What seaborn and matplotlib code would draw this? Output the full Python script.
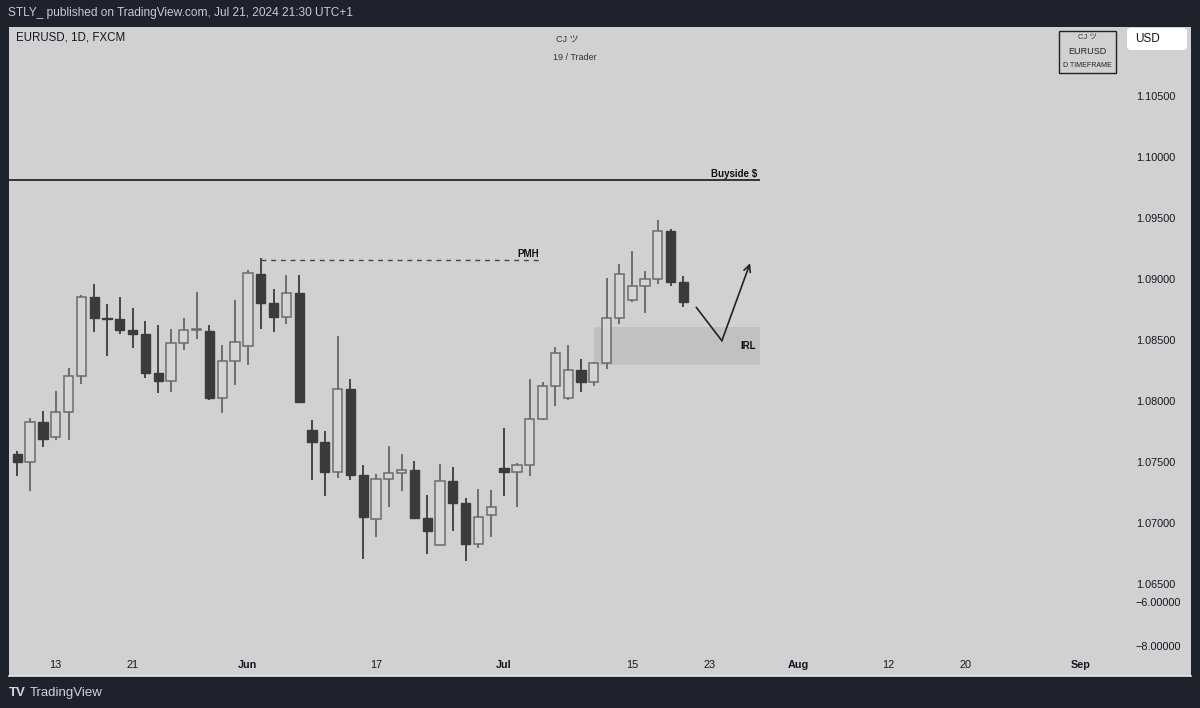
import matplotlib
matplotlib.use("Agg")
import matplotlib.pyplot as plt
import matplotlib.transforms as mtransforms
from matplotlib.patches import Rectangle, FancyBboxPatch
import seaborn as sns
import numpy as np

# ---------------- data ----------------
open_ = [1.0757, 1.0751, 1.0784, 1.0771, 1.0792, 1.0821, 1.0886, 1.0869, 1.0868, 1.0859,
         1.0856, 1.0824, 1.0817, 1.0848, 1.0859, 1.0858, 1.0803, 1.0834, 1.0846, 1.0905,
         1.0881, 1.0870, 1.0889, 1.0777, 1.0767, 1.0743, 1.0811, 1.0740, 1.0704, 1.0737,
         1.0742, 1.0744, 1.0705, 1.0683, 1.0735, 1.0717, 1.0684, 1.0707, 1.0746, 1.0743,
         1.0748, 1.0786, 1.0813, 1.0803, 1.0826, 1.0816, 1.0832, 1.0869, 1.0884, 1.0895,
         1.0901, 1.0940, 1.0898]
high = [1.0760, 1.0787, 1.0793, 1.0809, 1.0828, 1.0888, 1.0897, 1.0880, 1.0886, 1.0877,
        1.0866, 1.0863, 1.0860, 1.0869, 1.0890, 1.0863, 1.0847, 1.0884, 1.0908, 1.0918,
        1.0893, 1.0904, 1.0904, 1.0785, 1.0776, 1.0854, 1.0819, 1.0748, 1.0741, 1.0764,
        1.0757, 1.0752, 1.0724, 1.0749, 1.0747, 1.0721, 1.0729, 1.0728, 1.0779, 1.0750,
        1.0819, 1.0816, 1.0845, 1.0847, 1.0835, 1.0833, 1.0902, 1.0913, 1.0924, 1.0907,
        1.0949, 1.0942, 1.0903]
low = [1.0739, 1.0727, 1.0763, 1.0769, 1.0769, 1.0815, 1.0857, 1.0838, 1.0856, 1.0844,
       1.0820, 1.0807, 1.0808, 1.0843, 1.0852, 1.0802, 1.0791, 1.0814, 1.0830, 1.0860,
       1.0857, 1.0864, 1.0799, 1.0736, 1.0723, 1.0738, 1.0736, 1.0671, 1.0689, 1.0714,
       1.0727, 1.0704, 1.0675, 1.0683, 1.0694, 1.0670, 1.0680, 1.0689, 1.0723, 1.0714,
       1.0739, 1.0785, 1.0797, 1.0802, 1.0808, 1.0813, 1.0827, 1.0864, 1.0882, 1.0873,
       1.0897, 1.0895, 1.0878]
close = [1.0751, 1.0784, 1.0770, 1.0792, 1.0821, 1.0886, 1.0869, 1.0868, 1.0859, 1.0856,
         1.0824, 1.0817, 1.0848, 1.0859, 1.0860, 1.0803, 1.0834, 1.0849, 1.0906, 1.0881,
         1.0870, 1.0889, 1.0800, 1.0767, 1.0743, 1.0811, 1.0740, 1.0706, 1.0737, 1.0742,
         1.0744, 1.0705, 1.0694, 1.0735, 1.0717, 1.0684, 1.0706, 1.0714, 1.0743, 1.0748,
         1.0786, 1.0813, 1.0840, 1.0826, 1.0816, 1.0832, 1.0869, 1.0905, 1.0895, 1.0901,
         1.0940, 1.0898, 1.0882]

# x-axis labels (trading-day index -> label)
xtick_pos = [3, 9, 18, 28, 38, 48, 54, 61, 68, 74, 83]
xtick_labels = ["13", "21", "Jun", "17", "Jul", "15", "23", "Aug", "12", "20", "Sep"]
xtick_bold = [False, False, True, False, True, False, False, True, False, False, True]

# price scale labels
ytick_vals = [1.105, 1.100, 1.095, 1.090, 1.085, 1.080, 1.075, 1.070, 1.065]
extra_scale_labels = ["\u22126.00000", "\u22128.00000"]

# annotations
buyside_level = 1.0982
buyside_end = 57.98
pmh_level = 1.09164
pmh_start, pmh_end = 19.0, 40.8
irl_x = [45.05, 57.98]
irl_y = [1.08306, 1.08612]
arrow_x = [53.0, 55.0, 57.2]
arrow_y = [1.08776, 1.08502, 1.09137]

# ---------------- style ----------------
sns.set_theme(style="white")
plt.rcParams["font.family"] = ["Liberation Sans", "Noto Sans CJK JP", "DejaVu Sans"]

BG_OUT = "#1e222d"
PANEL = "#d1d1d1"
BEAR = "#3b3b3e"
BULL_FILL = "#d4d4d4"
BULL_EDGE = "#6b6b6b"
TXT = "#131722"

fig = plt.figure(figsize=(12, 7.08), dpi=100, facecolor=BG_OUT)
W, H = 1200, 708
ax = fig.add_axes([9 / W, 32 / H, 1182 / W, 649 / H])
ax.set_facecolor(PANEL)
for s in ax.spines.values():
    s.set_visible(False)
ax.spines["bottom"].set_visible(True)
ax.spines["bottom"].set_color("#e6e6e6")
ax.spines["bottom"].set_linewidth(1.2)

ax.set_xlim(-0.648, 91.62)
ax.set_ylim(1.05754, 1.11074)
ax.set_xticks([])
ax.set_yticks([])

o = np.array(open_)
c = np.array(close)
hi = np.array(high)
lo = np.array(low)
x = np.arange(len(o))
bull = c >= o

# IRL zone (behind candles)
ax.add_patch(Rectangle((irl_x[0], irl_y[0]), irl_x[1] - irl_x[0], irl_y[1] - irl_y[0],
                       facecolor="#c1c1c1", edgecolor="none", zorder=1))

# wicks
ax.vlines(x[bull], lo[bull], hi[bull], color="#5c5c5c", linewidth=1.2, zorder=2)
ax.vlines(x[~bull], lo[~bull], hi[~bull], color="#2e2e30", linewidth=1.2, zorder=2)

# bodies
minh = 0.00006
bottoms = np.minimum(o, c)
heights = np.maximum(np.abs(c - o), minh)
ax.bar(x[bull], heights[bull], bottom=bottoms[bull], width=0.72,
       color=BULL_FILL, edgecolor=BULL_EDGE, linewidth=1.1, zorder=3)
ax.bar(x[~bull], heights[~bull], bottom=bottoms[~bull], width=0.72,
       color=BEAR, edgecolor=BEAR, linewidth=1.0, zorder=3)

# Buyside line
ax.hlines(buyside_level, -1, buyside_end, color="#1a1a1a", linewidth=1.2, zorder=4)
ax.text(buyside_end - 0.25, buyside_level + 0.00012, "Buyside $", ha="right", va="bottom",
        fontsize=7, fontweight="bold", color="#111111", zorder=5)

# PMH dashed line
ax.hlines(pmh_level, pmh_start, pmh_end, color="#454545", linewidth=1.0,
          linestyles=(0, (3.5, 3.5)), zorder=4)
ax.text(pmh_end - 0.1, pmh_level + 0.00012, "PMH", ha="right", va="bottom",
        fontsize=7, fontweight="bold", color="#111111", zorder=5)

# IRL label
ax.text(irl_x[1] - 0.3, (irl_y[0] + irl_y[1]) / 2, "IRL", ha="right", va="center",
        fontsize=7, fontweight="bold", color="#111111", zorder=5)

# projection arrow
ax.plot(arrow_x[:2], arrow_y[:2], color="#222222", linewidth=1.2, zorder=5)
ax.annotate("", xy=(arrow_x[2], arrow_y[2]), xytext=(arrow_x[1], arrow_y[1]),
            arrowprops=dict(arrowstyle="->", color="#222222", lw=1.2,
                            shrinkA=0, shrinkB=0, mutation_scale=12), zorder=5)

# price scale labels
tr_y = mtransforms.blended_transform_factory(ax.transAxes, ax.transData)
for v in ytick_vals:
    ax.text(0.9865, v, f"{v:.5f}", transform=tr_y, ha="right", va="center",
            fontsize=7.8, color=TXT, zorder=6)
ax.text(0.9915, (676 - 603) / 649, extra_scale_labels[0], transform=ax.transAxes,
        ha="right", va="center", fontsize=7.8, color=TXT)
ax.text(0.9915, (676 - 647) / 649, extra_scale_labels[1], transform=ax.transAxes,
        ha="right", va="center", fontsize=7.8, color=TXT)

# date labels
tr_x = mtransforms.blended_transform_factory(ax.transData, ax.transAxes)
for p, lab, b in zip(xtick_pos, xtick_labels, xtick_bold):
    ax.text(p, 11 / 649, lab, transform=tr_x, ha="center", va="center", fontsize=7.8,
            fontweight="bold" if b else "normal", color=TXT)

# ---------------- chart header texts ----------------
def fx(px):
    return px / W

def fy(py):
    return 1 - py / H

fig.text(fx(8), fy(13), "STLY_ published on TradingView.com, Jul 21, 2024 21:30 UTC+1",
         ha="left", va="center", fontsize=8.6, color="#c9cbd0")
fig.text(fx(16), fy(38), "EURUSD, 1D, FXCM", ha="left", va="center", fontsize=8.3, color=TXT)
fig.text(fx(567), fy(40), "CJ ツ", ha="center", va="center", fontsize=6.5, color="#333333")
fig.text(fx(575), fy(58), "19 / Trader", ha="center", va="center", fontsize=6.5, color="#333333")

# watermark box top-right
fig.patches.append(Rectangle((fx(1059), fy(73)), fx(57), 42 / H, transform=fig.transFigure,
                             facecolor="none", edgecolor="#222222", linewidth=1.0))
fig.text(fx(1087.5), fy(38.5), "CJ ツ", ha="center", va="center", fontsize=5.5, color="#333333")
fig.text(fx(1087.5), fy(52), "EURUSD", ha="center", va="center", fontsize=6.5, color="#222222")
fig.text(fx(1087.5), fy(65.5), "D TIMEFRAME", ha="center", va="center", fontsize=5, color="#222222")

# USD box
fig.patches.append(FancyBboxPatch((fx(1127), fy(50)), fx(60), 22 / H,
                                  boxstyle="round,pad=0,rounding_size=0.004",
                                  transform=fig.transFigure, facecolor="white",
                                  edgecolor="none"))
fig.text(fx(1135), fy(39), "USD", ha="left", va="center", fontsize=8.5, color=TXT)

# footer
fig.text(fx(9), fy(693), "TV", ha="left", va="center", fontsize=9.5, fontweight="bold",
         color="#d1d4dc")
fig.text(fx(30), fy(693), "TradingView", ha="left", va="center", fontsize=9.5, color="#d1d4dc")

fig.savefig("out.png", dpi=100, facecolor=BG_OUT)
